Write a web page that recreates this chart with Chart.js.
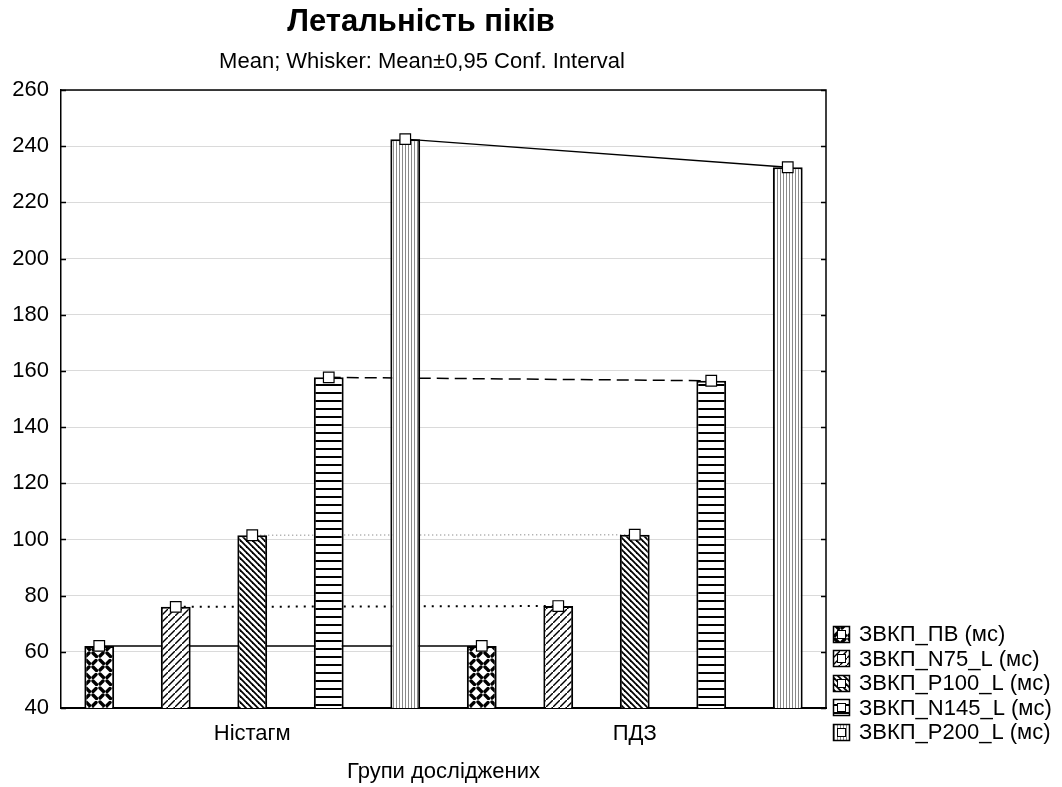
<!DOCTYPE html>
<html>
<head>
<meta charset="utf-8">
<script src="https://cdn.jsdelivr.net/npm/chart.js@4/dist/chart.umd.min.js"></script>
<style>
html,body{margin:0;padding:0;background:#fff;}
#wrap{width:1062px;height:787px;position:relative;}
</style>
</head>
<body>
<div id="wrap"><canvas id="c" width="1062" height="787"></canvas></div>
<script>
// ---- data ----
const categories = ['Ністагм', 'ПДЗ'];
const seriesNames = ['ЗВКП_ПВ (мс)', 'ЗВКП_N75_L (мс)', 'ЗВКП_P100_L (мс)', 'ЗВКП_N145_L (мс)', 'ЗВКП_P200_L (мс)'];
const valsPV   = [62.1, 62.1];
const valsN75  = [76.0, 76.3];
const valsP100 = [101.5, 101.7];
const valsN145 = [157.7, 156.5];
const valsP200 = [242.5, 232.5];
const yTicks = [40, 60, 80, 100, 120, 140, 160, 180, 200, 220, 240, 260];
const titleText = 'Летальність піків';
const subtitleText = 'Mean; Whisker: Mean±0,95 Conf. Interval';
const xAxisTitle = 'Групи досліджених';

const seriesValues = [valsPV, valsN75, valsP100, valsN145, valsP200];
const FONT = 'Arial, "Liberation Sans", sans-serif';

// ---- patterns ----
function makeTile(w, h, draw) {
  const cv = document.createElement('canvas');
  cv.width = w; cv.height = h;
  const g = cv.getContext('2d');
  g.fillStyle = '#fff'; g.fillRect(0, 0, w, h);
  draw(g, w, h);
  return document.getElementById('c').getContext('2d').createPattern(cv, 'repeat');
}
const patPV = makeTile(14, 14, (g) => {
  g.strokeStyle = '#000'; g.lineWidth = 3.4; g.lineCap = 'round';
  g.beginPath(); g.moveTo(2, 2); g.lineTo(5.5, 5.5); g.stroke();
  g.beginPath(); g.moveTo(9, 5.5); g.lineTo(12, 2.5); g.stroke();
  g.beginPath(); g.moveTo(9, 9); g.lineTo(12.5, 12.5); g.stroke();
  g.beginPath(); g.moveTo(2, 12); g.lineTo(5, 9); g.stroke();
});
const patN75 = makeTile(7, 7, (g) => {
  g.strokeStyle = '#000'; g.lineWidth = 1.4;
  g.beginPath(); g.moveTo(-1, 8); g.lineTo(8, -1); g.stroke();
});
const patP100 = makeTile(6, 6, (g) => {
  g.strokeStyle = '#000'; g.lineWidth = 1.8;
  g.beginPath(); g.moveTo(-1, -1); g.lineTo(7, 7); g.stroke();
  g.beginPath(); g.moveTo(-1, 5); g.lineTo(1, 7); g.stroke();
  g.beginPath(); g.moveTo(5, -1); g.lineTo(7, 1); g.stroke();
});
const patN145 = makeTile(8, 8, (g) => {
  g.fillStyle = '#000'; g.fillRect(0, 0, 8, 2);
});
const patP200 = makeTile(3, 3, (g) => {
  g.fillStyle = '#8a8a8a'; g.fillRect(0, 0, 1, 3);
});
const patterns = [patPV, patN75, patP100, patN145, patP200];

// line styles connecting means across groups
const lineStyles = [
  {color: '#000', width: 1.5, dash: []},
  {color: '#000', width: 2, dash: [2, 6]},
  {color: '#9a9a9a', width: 1.5, dash: [1, 3]},
  {color: '#000', width: 1.5, dash: [12, 6]},
  {color: '#000', width: 1.3, dash: []}
];

const nS = seriesValues.length;
const slot = 1 / nS;
function xPos(gi, s) { return gi + (s - (nS - 1) / 2) * slot; }

const datasets = [];
// bars
seriesValues.forEach((vals, s) => {
  datasets.push({
    type: 'bar', label: seriesNames[s],
    data: vals.map((v, gi) => ({x: xPos(gi, s), y: v})),
    backgroundColor: patterns[s], borderColor: '#000', borderWidth: 2,
    borderSkipped: 'start', xAxisID: 'x2', yAxisID: 'y', order: 1,
    grouped: false, barPercentage: 0.39, categoryPercentage: 1.0
  });
});
// connecting lines (behind bars)
seriesValues.forEach((vals, s) => {
  const st = lineStyles[s];
  datasets.push({
    type: 'line', label: 'line' + s,
    data: vals.map((v, gi) => ({x: xPos(gi, s), y: v})),
    borderColor: st.color, borderWidth: st.width, borderDash: st.dash,
    pointRadius: 0, fill: false, tension: 0,
    xAxisID: 'x2', yAxisID: 'y', order: 2
  });
});
// mean markers (on top)
const markerData = [];
seriesValues.forEach((vals, s) => vals.forEach((v, gi) => markerData.push({x: xPos(gi, s), y: v})));
datasets.push({
  type: 'line', label: 'markers', data: markerData, showLine: false,
  pointStyle: 'rect', pointRadius: 7.5, pointBackgroundColor: '#fff',
  pointBorderColor: '#000', pointBorderWidth: 1.2,
  xAxisID: 'x2', yAxisID: 'y', order: 0
});

const decor = {
  id: 'decor',
  afterDraw(chart) {
    const ctx = chart.ctx, a = chart.chartArea, ys = chart.scales.y;
    ctx.save();
    ctx.strokeStyle = '#000'; ctx.lineWidth = 1.5; ctx.setLineDash([]);
    ctx.beginPath();
    ctx.moveTo(a.left, a.top); ctx.lineTo(a.right, a.top); ctx.lineTo(a.right, a.bottom);
    ctx.stroke();
    yTicks.forEach(t => {
      const py = Math.round(ys.getPixelForValue(t)) + 0.5;
      ctx.beginPath(); ctx.moveTo(a.left, py); ctx.lineTo(a.left + 5, py); ctx.stroke();
      ctx.beginPath(); ctx.moveTo(a.right, py); ctx.lineTo(a.right - 5, py); ctx.stroke();
    });
    ctx.fillStyle = '#000'; ctx.textAlign = 'center'; ctx.textBaseline = 'middle';
    ctx.font = 'bold 31px ' + FONT;
    ctx.fillText(titleText, 421, 22);
    ctx.font = '22px ' + FONT;
    ctx.fillText(subtitleText, 422, 62);
    ctx.fillText(xAxisTitle, (a.left + a.right) / 2, 772);
    // legend
    const lx = 833, ly0 = 634, step = 24.6, bs = 17;
    ctx.textAlign = 'left';
    ctx.font = '22px ' + FONT;
    seriesNames.forEach((n, s) => {
      const cy = ly0 + s * step;
      const by = Math.round(cy - bs / 2);
      ctx.fillStyle = patterns[s];
      ctx.fillRect(lx, by, bs, bs);
      ctx.strokeStyle = '#000'; ctx.lineWidth = 1.5;
      ctx.strokeRect(lx + 0.5, by + 0.5, bs - 1, bs - 1);
      ctx.fillStyle = '#fff';
      ctx.fillRect(lx + 4, by + 4, bs - 8, bs - 8);
      ctx.lineWidth = 1;
      ctx.strokeRect(lx + 4.5, by + 4.5, bs - 9, bs - 9);
      ctx.fillStyle = '#000';
      ctx.fillText(n, lx + 26, cy + 1);
    });
    ctx.restore();
  }
};

new Chart(document.getElementById('c'), {
  type: 'bar',
  data: {labels: categories, datasets: datasets},
  options: {
    responsive: false, animation: false,
    layout: {padding: {top: 90, right: 236, bottom: 0, left: 0}},
    plugins: {legend: {display: false}, tooltip: {enabled: false}, title: {display: false}},
    scales: {
      x: {
        type: 'category', offset: true,
        grid: {display: false, drawTicks: false},
        border: {display: true, color: '#000', width: 2},
        ticks: {color: '#000', font: {family: FONT, size: 22}, padding: 13},
        afterFit(scale) { scale.height = 79; }
      },
      x2: {
        type: 'linear', display: false, offset: false,
        min: -0.5, max: categories.length - 0.5,
        grid: {offset: false},
        afterBuildTicks(scale) { scale.ticks = [{value: -0.5}, {value: categories.length - 0.5}]; }
      },
      y: {
        type: 'linear', min: 40, max: 260,
        afterBuildTicks(scale) { scale.ticks = yTicks.map(v => ({value: v})); },
        grid: {color: '#b5b5b5', lineWidth: 1, drawTicks: false},
        border: {display: true, color: '#000', width: 1.5, dash: [1, 1]},
        ticks: {color: '#000', font: {family: FONT, size: 22}, padding: 12},
        afterFit(scale) { scale.width = 61; }
      }
    }
  },
  plugins: [decor]
});
</script>
</body>
</html>
